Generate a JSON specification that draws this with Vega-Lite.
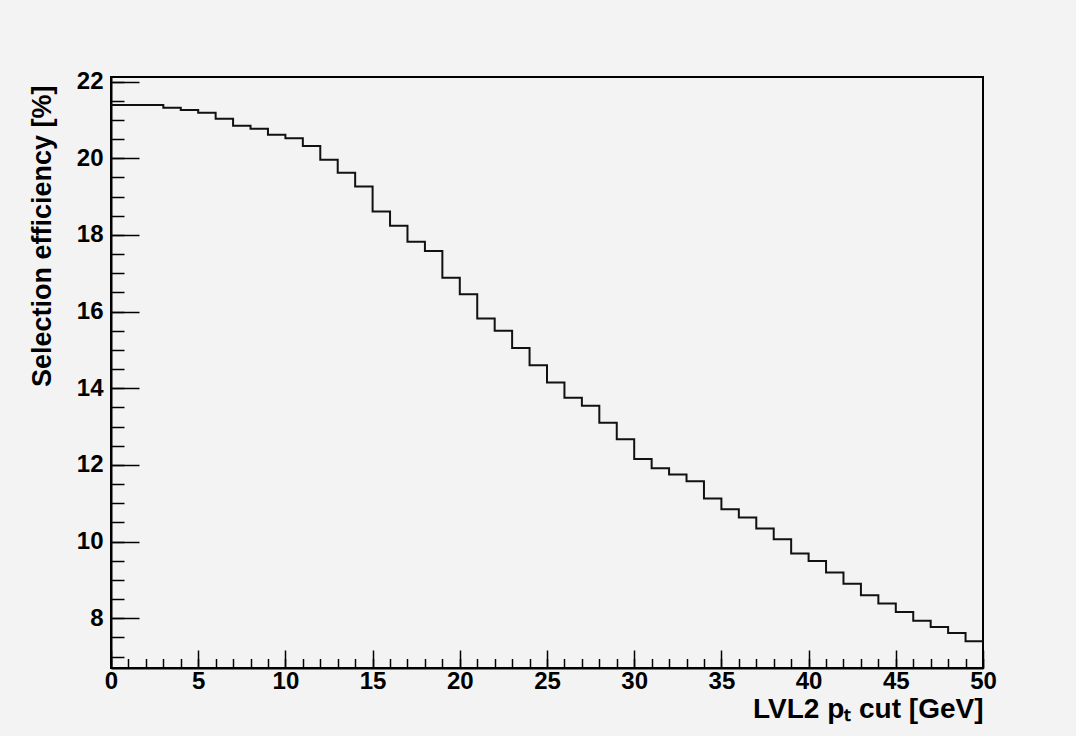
{
  "$schema": "https://vega.github.io/schema/vega-lite/v6.json",
  "width": 872,
  "height": 591,
  "autosize": {"type": "none"},
  "padding": {"left": 111, "top": 77, "right": 93, "bottom": 68},
  "background": "#f3f3f3",
  "config": {
    "view": {"stroke": "black", "strokeWidth": 2},
    "axis": {
      "grid": false,
      "labelFont": "Liberation Sans",
      "labelFontWeight": "bold",
      "labelFontSize": 24,
      "labelColor": "black",
      "titleFont": "Liberation Sans",
      "titleFontWeight": "bold",
      "titleFontSize": 27,
      "titleColor": "black",
      "tickColor": "black",
      "tickWidth": 1.5,
      "domainColor": "black",
      "domainWidth": 2,
      "labelFlush": false,
      "labelOverlap": false
    }
  },
  "data": {
    "values": [
      {"lo": 0, "hi": 1, "eff": 21.39},
      {"lo": 1, "hi": 2, "eff": 21.39},
      {"lo": 2, "hi": 3, "eff": 21.39},
      {"lo": 3, "hi": 4, "eff": 21.32},
      {"lo": 4, "hi": 5, "eff": 21.26},
      {"lo": 5, "hi": 6, "eff": 21.19},
      {"lo": 6, "hi": 7, "eff": 21.03},
      {"lo": 7, "hi": 8, "eff": 20.85},
      {"lo": 8, "hi": 9, "eff": 20.77},
      {"lo": 9, "hi": 10, "eff": 20.61},
      {"lo": 10, "hi": 11, "eff": 20.52},
      {"lo": 11, "hi": 12, "eff": 20.32},
      {"lo": 12, "hi": 13, "eff": 19.96},
      {"lo": 13, "hi": 14, "eff": 19.62},
      {"lo": 14, "hi": 15, "eff": 19.26},
      {"lo": 15, "hi": 16, "eff": 18.61},
      {"lo": 16, "hi": 17, "eff": 18.24},
      {"lo": 17, "hi": 18, "eff": 17.82},
      {"lo": 18, "hi": 19, "eff": 17.58},
      {"lo": 19, "hi": 20, "eff": 16.88},
      {"lo": 20, "hi": 21, "eff": 16.45},
      {"lo": 21, "hi": 22, "eff": 15.82},
      {"lo": 22, "hi": 23, "eff": 15.50},
      {"lo": 23, "hi": 24, "eff": 15.05},
      {"lo": 24, "hi": 25, "eff": 14.60},
      {"lo": 25, "hi": 26, "eff": 14.15},
      {"lo": 26, "hi": 27, "eff": 13.75},
      {"lo": 27, "hi": 28, "eff": 13.54},
      {"lo": 28, "hi": 29, "eff": 13.10},
      {"lo": 29, "hi": 30, "eff": 12.67},
      {"lo": 30, "hi": 31, "eff": 12.15},
      {"lo": 31, "hi": 32, "eff": 11.91},
      {"lo": 32, "hi": 33, "eff": 11.75},
      {"lo": 33, "hi": 34, "eff": 11.57},
      {"lo": 34, "hi": 35, "eff": 11.12},
      {"lo": 35, "hi": 36, "eff": 10.84},
      {"lo": 36, "hi": 37, "eff": 10.63},
      {"lo": 37, "hi": 38, "eff": 10.34},
      {"lo": 38, "hi": 39, "eff": 10.06},
      {"lo": 39, "hi": 40, "eff": 9.69},
      {"lo": 40, "hi": 41, "eff": 9.49},
      {"lo": 41, "hi": 42, "eff": 9.19},
      {"lo": 42, "hi": 43, "eff": 8.90},
      {"lo": 43, "hi": 44, "eff": 8.60},
      {"lo": 44, "hi": 45, "eff": 8.38},
      {"lo": 45, "hi": 46, "eff": 8.16},
      {"lo": 46, "hi": 47, "eff": 7.93},
      {"lo": 47, "hi": 48, "eff": 7.77},
      {"lo": 48, "hi": 49, "eff": 7.61},
      {"lo": 49, "hi": 50, "eff": 7.40}
    ]
  },
  "transform": [{"fold": ["lo", "hi"], "as": ["edge_kind", "edge"]}],
  "layer": [
    {
      "mark": {"type": "line", "color": "#111111", "strokeWidth": 2, "interpolate": "linear"},
      "encoding": {
        "x": {
          "field": "edge",
          "type": "quantitative",
          "scale": {"domain": [0, 50], "nice": false, "zero": false},
          "axis": {
            "orient": "bottom",
            "values": [0, 5, 10, 15, 20, 25, 30, 35, 40, 45, 50],
            "tickSize": -18,
            "labelPadding": 19,
            "title": "LVL2 pₜ cut [GeV]",
            "titleFontSize": 28,
            "titleAlign": "right",
            "titleBaseline": "alphabetic",
            "titleX": 872,
            "titleY": 49
          }
        },
        "y": {
          "field": "eff",
          "type": "quantitative",
          "scale": {"domain": [6.7, 22.12], "nice": false, "zero": false},
          "axis": {
            "orient": "left",
            "values": [8, 10, 12, 14, 16, 18, 20, 22],
            "tickSize": -28,
            "labelPadding": 36,
            "title": "Selection efficiency [%]",
            "titleAngle": 270,
            "titleAlign": "right",
            "titleBaseline": "alphabetic",
            "titleX": -61,
            "titleY": 8
          }
        },
        "order": [{"field": "edge", "type": "quantitative"}, {"field": "lo", "type": "quantitative"}]
      }
    },
    {
      "mark": {"type": "line", "opacity": 0},
      "encoding": {
        "x": {
          "field": "edge",
          "type": "quantitative",
          "axis": {
            "orient": "bottom",
            "values": [0,1,2,3,4,5,6,7,8,9,10,11,12,13,14,15,16,17,18,19,20,21,22,23,24,25,26,27,28,29,30,31,32,33,34,35,36,37,38,39,40,41,42,43,44,45,46,47,48,49,50],
            "tickSize": -9.5,
            "labels": false,
            "domain": false,
            "title": null
          }
        },
        "y": {
          "field": "eff",
          "type": "quantitative",
          "axis": {
            "orient": "left",
            "values": [7,7.5,8,8.5,9,9.5,10,10.5,11,11.5,12,12.5,13,13.5,14,14.5,15,15.5,16,16.5,17,17.5,18,18.5,19,19.5,20,20.5,21,21.5,22],
            "tickSize": -13,
            "labels": false,
            "domain": false,
            "title": null
          }
        },
        "order": [{"field": "edge", "type": "quantitative"}, {"field": "lo", "type": "quantitative"}]
      }
    }
  ],
  "resolve": {"axis": {"x": "independent", "y": "independent"}}
}
